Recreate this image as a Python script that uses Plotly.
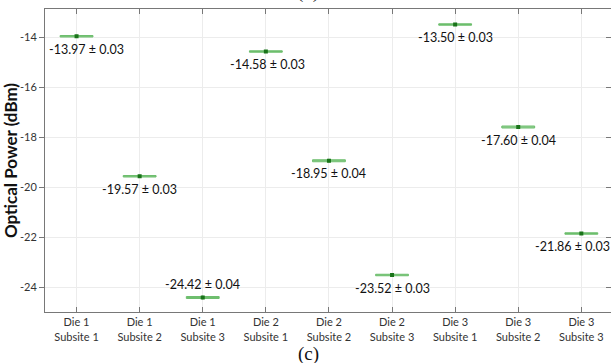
import plotly.graph_objects as go

categories = ["Die 1<br>Subsite 1", "Die 1<br>Subsite 2", "Die 1<br>Subsite 3",
              "Die 2<br>Subsite 1", "Die 2<br>Subsite 2", "Die 2<br>Subsite 3",
              "Die 3<br>Subsite 1", "Die 3<br>Subsite 2", "Die 3<br>Subsite 3"]
means = [-13.97, -19.57, -24.42, -14.58, -18.95, -23.52, -13.50, -17.60, -21.86]
stds = [0.03, 0.03, 0.04, 0.03, 0.04, 0.03, 0.03, 0.04, 0.03]
label_above = [False, False, True, False, False, False, False, False, False]
label_xshift = [10, 0, 0, 2, 0, 0, 0, 0, -9]
y_ticks = [-24, -22, -20, -18, -16, -14]

q1 = [m - s for m, s in zip(means, stds)]
q3 = [m + s for m, s in zip(means, stds)]
lo = [m - 2 * s for m, s in zip(means, stds)]
hi = [m + 2 * s for m, s in zip(means, stds)]

fig = go.Figure()
fig.add_trace(go.Box(
    x=categories, q1=q1, median=means, q3=q3, lowerfence=lo, upperfence=hi,
    width=0.52, whiskerwidth=0, boxpoints=False,
    line=dict(color="rgb(110,190,110)", width=1),
    fillcolor="rgba(150,215,150,0.7)", showlegend=False, hoverinfo="skip"))
fig.add_trace(go.Scatter(
    x=categories, y=means, mode="markers",
    marker=dict(symbol="square", size=4, color="rgb(25,115,25)"),
    showlegend=False, hoverinfo="skip"))

# invisible trace to carry the right-hand tick marks
fig.add_trace(go.Scatter(x=[categories[0]], y=[means[0]], yaxis="y2",
                         mode="markers", marker=dict(opacity=0),
                         showlegend=False, hoverinfo="skip"))

annotations = []
for c, m, s, above, dx in zip(categories, means, stds, label_above, label_xshift):
    annotations.append(dict(
        x=c, y=m, xref="x", yref="y", text=f"{m:.2f} ± {s:.2f}",
        showarrow=False, yshift=13 if above else -13, xshift=dx,
        font=dict(family="Lato", size=12.5, color="#111111")))
annotations.append(dict(x=0.465, y=-0.137, xref="paper", yref="paper", text="(c)",
                        showarrow=False, yanchor="middle",
                        font=dict(family="Liberation Serif", size=19, color="#111111")))
annotations.append(dict(x=0.465, y=1.0132, xref="paper", yref="paper", text="(b)",
                        showarrow=False, yanchor="bottom",
                        font=dict(family="Liberation Serif", size=19, color="#111111")))

yr = [-25.0, -12.88]
fig.update_layout(
    width=611, height=363,
    margin=dict(l=45, r=0, t=9, b=51),
    paper_bgcolor="white", plot_bgcolor="white",
    annotations=annotations,
    xaxis=dict(type="category", categoryorder="array", categoryarray=categories,
               range=[-0.5, 8.47], showgrid=True, gridcolor="rgb(236,236,236)",
               showline=True, linecolor="rgb(120,120,120)", linewidth=1,
               mirror="ticks", ticks="inside", ticklen=5, tickcolor="rgb(120,120,120)",
               tickfont=dict(family="Lato", size=11, color="#333333"), zeroline=False),
    yaxis=dict(range=yr, tickvals=y_ticks, ticktext=[str(v) for v in y_ticks],
               showgrid=True, gridcolor="rgb(236,236,236)",
               showline=True, linecolor="rgb(120,120,120)", linewidth=1,
               ticks="outside", ticklen=5, tickcolor="rgb(120,120,120)",
               tickfont=dict(family="Lato", size=11, color="#333333"), zeroline=False,
               title=dict(text="<b>Optical Power (dBm)</b>", standoff=5,
                          font=dict(family="Lato", size=17, color="#111111"))),
    yaxis2=dict(range=yr, tickvals=y_ticks, overlaying="y", side="right",
                showticklabels=False, showgrid=False, showline=False,
                ticks="inside", ticklen=5, tickcolor="rgb(120,120,120)", zeroline=False),
)

fig.write_html("out.html")
